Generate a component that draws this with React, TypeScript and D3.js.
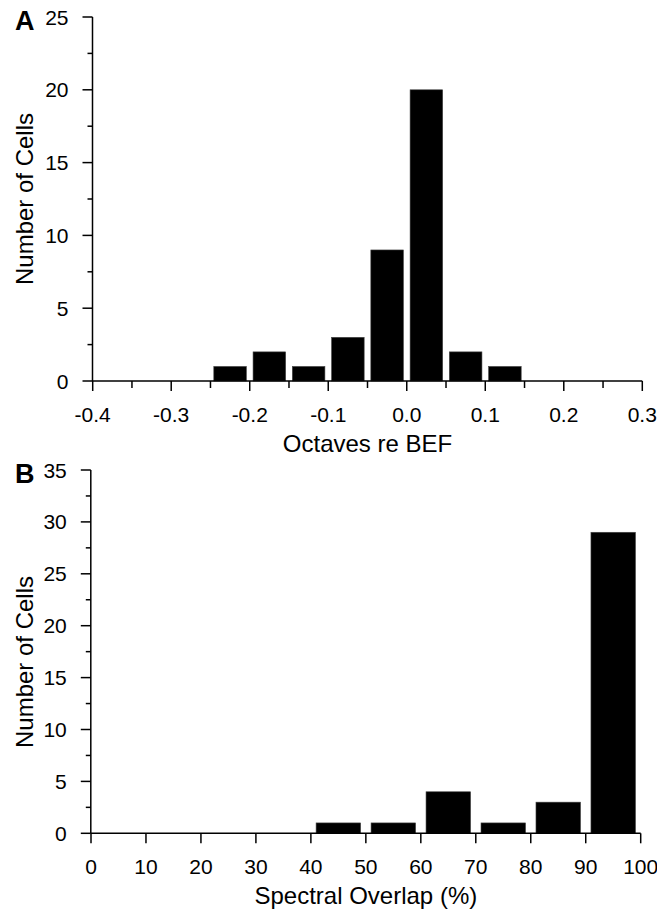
import React from "react";
import * as d3 from "d3";

// Panel A: Octaves re BEF histogram
const octBinStarts = [-0.25, -0.2, -0.15, -0.1, -0.05, 0.0, 0.05, 0.1];
const octCounts = [1, 2, 1, 3, 9, 20, 2, 1];
const octBinWidth = 0.05;
const octTicks = [-0.4, -0.3, -0.2, -0.1, 0.0, 0.1, 0.2, 0.3];
const octMinorTicks = [-0.35, -0.25, -0.15, -0.05, 0.05, 0.15, 0.25];
const aYTicks = [0, 5, 10, 15, 20, 25];
const aYMinor = [2.5, 7.5, 12.5, 17.5, 22.5];

// Panel B: Spectral overlap histogram
const ovBinStarts = [40, 50, 60, 70, 80, 90];
const ovCounts = [1, 1, 4, 1, 3, 29];
const ovBinWidth = 10;
const ovTicks = [0, 10, 20, 30, 40, 50, 60, 70, 80, 90, 100];
const bYTicks = [0, 5, 10, 15, 20, 25, 30, 35];
const bYMinor = [2.5, 7.5, 12.5, 17.5, 22.5, 27.5, 32.5];

const FONT = "'Liberation Sans', Arial, Helvetica, sans-serif";

type PanelProps = {
  letter: string;
  xDomain: [number, number];
  xRange: [number, number];
  yDomain: [number, number];
  yRange: [number, number];
  axisX: number;
  binStarts: number[];
  counts: number[];
  binWidth: number;
  xTicks: number[];
  xMinor: number[];
  yTicks: number[];
  yMinor: number[];
  xFormat: (v: number) => string;
  xTitle: string;
  yTitleCenter: number;
  barFrac: number;
};

function Panel(p: PanelProps) {
  const x = d3.scaleLinear().domain(p.xDomain).range(p.xRange);
  const y = d3.scaleLinear().domain(p.yDomain).range(p.yRange);
  const y0 = y(0);
  const stroke = "#000";
  const sw = 1.5;
  return (
    <g>
      {/* bars */}
      {p.binStarts.map((b, i) => {
        const x0 = x(b);
        const x1 = x(b + p.binWidth);
        const w = x1 - x0;
        const pad = (w * (1 - p.barFrac)) / 2;
        return (
          <rect
            key={i}
            x={x0 + pad}
            y={y(p.counts[i])}
            width={w - 2 * pad}
            height={y0 - y(p.counts[i])}
            fill="#000"
            stroke="#444"
            strokeWidth={0.6}
          />
        );
      })}
      {/* y axis */}
      <line x1={p.axisX} x2={p.axisX} y1={y(p.yDomain[1])} y2={y0} stroke={stroke} strokeWidth={sw} />
      {p.yTicks.map((t) => (
        <g key={"yt" + t}>
          <line x1={p.axisX - 10} x2={p.axisX} y1={y(t)} y2={y(t)} stroke={stroke} strokeWidth={sw} />
          <text x={p.axisX - 24} y={y(t)} dy="0.36em" textAnchor="end" fontSize={21} fontFamily={FONT}>
            {t}
          </text>
        </g>
      ))}
      {p.yMinor.map((t) => (
        <line key={"ym" + t} x1={p.axisX - 5} x2={p.axisX} y1={y(t)} y2={y(t)} stroke={stroke} strokeWidth={sw} />
      ))}
      {/* x axis */}
      <line x1={p.axisX} x2={p.xRange[1]} y1={y0} y2={y0} stroke={stroke} strokeWidth={sw} />
      {p.xTicks.map((t) => (
        <g key={"xt" + t}>
          <line x1={x(t)} x2={x(t)} y1={y0} y2={y0 + 10} stroke={stroke} strokeWidth={sw} />
          <text x={x(t)} y={y0 + 41} textAnchor="middle" fontSize={21} fontFamily={FONT}>
            {p.xFormat(t)}
          </text>
        </g>
      ))}
      {p.xMinor.map((t) => (
        <line key={"xm" + t} x1={x(t)} x2={x(t)} y1={y0} y2={y0 + 7} stroke={stroke} strokeWidth={sw} />
      ))}
      {/* titles */}
      <text
        x={(p.xRange[0] + p.xRange[1]) / 2}
        y={y0 + 71}
        textAnchor="middle"
        fontSize={24}
        fontFamily={FONT}
      >
        {p.xTitle}
      </text>
      <text
        transform={`translate(33,${p.yTitleCenter}) rotate(-90)`}
        textAnchor="middle"
        fontSize={24}
        fontFamily={FONT}
      >
        Number of Cells
      </text>
      <text x={15} y={y(p.yDomain[1]) + 13} fontSize={27} fontWeight="bold" fontFamily={FONT}>
        {p.letter}
      </text>
    </g>
  );
}

export default function App() {
  return (
    <svg
      width={657}
      height={909}
      style={{ position: "absolute", left: 0, top: 0, background: "#fff" }}
    >
      <Panel
        letter="A"
        xDomain={[-0.4, 0.3]}
        xRange={[92.7, 642.3]}
        yDomain={[0, 25]}
        yRange={[381, 17]}
        axisX={92.5}
        binStarts={octBinStarts}
        counts={octCounts}
        binWidth={octBinWidth}
        xTicks={octTicks}
        xMinor={octMinorTicks}
        yTicks={aYTicks}
        yMinor={aYMinor}
        xFormat={(v) => d3.format(".1f")(v).replace("−", "-")}
        xTitle="Octaves re BEF"
        yTitleCenter={199}
        barFrac={0.83}
      />
      <Panel
        letter="B"
        xDomain={[0, 100]}
        xRange={[91, 640.7]}
        yDomain={[0, 35]}
        yRange={[833.3, 470]}
        axisX={90.8}
        binStarts={ovBinStarts}
        counts={ovCounts}
        binWidth={ovBinWidth}
        xTicks={ovTicks}
        xMinor={[]}
        yTicks={bYTicks}
        yMinor={bYMinor}
        xFormat={(v) => String(v)}
        xTitle="Spectral Overlap (%)"
        yTitleCenter={662}
        barFrac={0.81}
      />
    </svg>
  );
}
